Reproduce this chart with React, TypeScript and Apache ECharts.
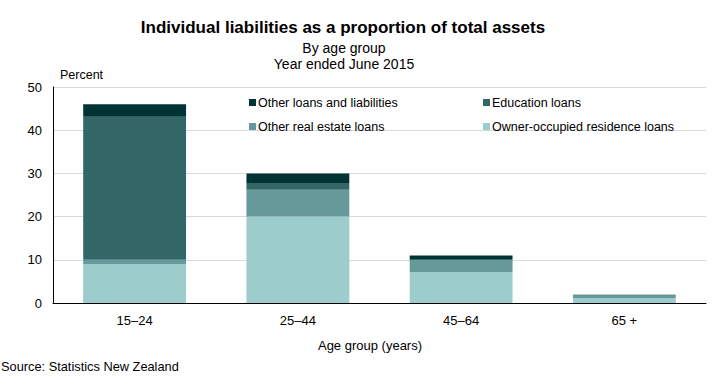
import React, { useEffect, useRef } from "react";
import * as echarts from "echarts";

const categories = ["15–24", "25–44", "45–64", "65 +"];
const ownerOccupied = [9.0, 20.0, 7.1, 1.1];
const otherRealEstate = [1.0, 6.2, 2.8, 0.7];
const education = [33.1, 1.6, 0.3, 0.0];
const otherLoans = [2.9, 2.2, 0.8, 0.1];
const yTicks = [0, 10, 20, 30, 40, 50];

const FONT = "Liberation Sans, Arial, sans-serif";
const colors = {
  owner: "#9ccccc",
  re: "#669999",
  edu: "#336666",
  other: "#003333",
};

export default function App() {
  const ref = useRef<HTMLDivElement>(null);
  useEffect(() => {
    if (!ref.current) return;
    const chart = echarts.init(ref.current, null, { renderer: "svg" });
    const mk = (name: string, data: number[], color: string) => ({
      name,
      type: "bar",
      stack: "total",
      data,
      barWidth: "63%",
      itemStyle: { color },
      emphasis: { disabled: true },
    });
    const legendBase = {
      orient: "vertical",
      itemWidth: 7,
      itemHeight: 7,
      itemGap: 11,
      icon: "rect",
      textStyle: { fontFamily: FONT, fontSize: 12.5, color: "#000", padding: [0, 0, 0, -3] },
      selectedMode: false,
    };
    chart.setOption({
      animation: false,
      textStyle: { fontFamily: FONT },
      graphic: [
        { type: "text", x: 343, y: 27, style: { text: "Individual liabilities as a proportion of total assets", fontFamily: FONT, fontSize: 17, fontWeight: "bold", fill: "#000", align: "center", verticalAlign: "middle" } },
        { type: "text", x: 344, y: 48, style: { text: "By age group", fontFamily: FONT, fontSize: 14, fill: "#000", align: "center", verticalAlign: "middle" } },
        { type: "text", x: 344, y: 64, style: { text: "Year ended June 2015", fontFamily: FONT, fontSize: 14, fill: "#000", align: "center", verticalAlign: "middle" } },
        { type: "text", x: 60, y: 75, style: { text: "Percent", fontFamily: FONT, fontSize: 12.5, fill: "#000", align: "left", verticalAlign: "middle" } },
        { type: "text", x: 370, y: 345, style: { text: "Age group (years)", fontFamily: FONT, fontSize: 13, fill: "#000", align: "center", verticalAlign: "middle" } },
        { type: "text", x: 1, y: 366, style: { text: "Source: Statistics New Zealand", fontFamily: FONT, fontSize: 12.8, fill: "#000", align: "left", verticalAlign: "middle" } },
      ],
      legend: [
        { ...legendBase, left: 244, top: 91, data: ["Other loans and liabilities", "Other real estate loans"] },
        { ...legendBase, left: 478, top: 91, data: ["Education loans", "Owner-occupied residence loans"] },
      ],
      grid: { left: 53, right: 10, top: 87, bottom: 83, containLabel: false },
      xAxis: {
        type: "category",
        data: categories,
        axisLine: { lineStyle: { color: "#000", width: 1 } },
        axisTick: { show: false },
        axisLabel: { fontFamily: FONT, fontSize: 13, color: "#000", margin: 11 },
      },
      yAxis: {
        type: "value",
        min: yTicks[0],
        max: yTicks[yTicks.length - 1],
        interval: 10,
        axisLine: { show: true, lineStyle: { color: "#000", width: 1 } },
        axisTick: { show: false },
        splitLine: { lineStyle: { color: "#d9d9d9", width: 1 } },
        axisLabel: { fontFamily: FONT, fontSize: 13, color: "#000", margin: 11 },
      },
      series: [
        mk("Owner-occupied residence loans", ownerOccupied, colors.owner),
        mk("Other real estate loans", otherRealEstate, colors.re),
        mk("Education loans", education, colors.edu),
        mk("Other loans and liabilities", otherLoans, colors.other),
      ],
    });
    return () => chart.dispose();
  }, []);
  return <div ref={ref} style={{ width: 716, height: 386, position: "absolute", left: 0, top: 0, background: "#fff" }} />;
}
